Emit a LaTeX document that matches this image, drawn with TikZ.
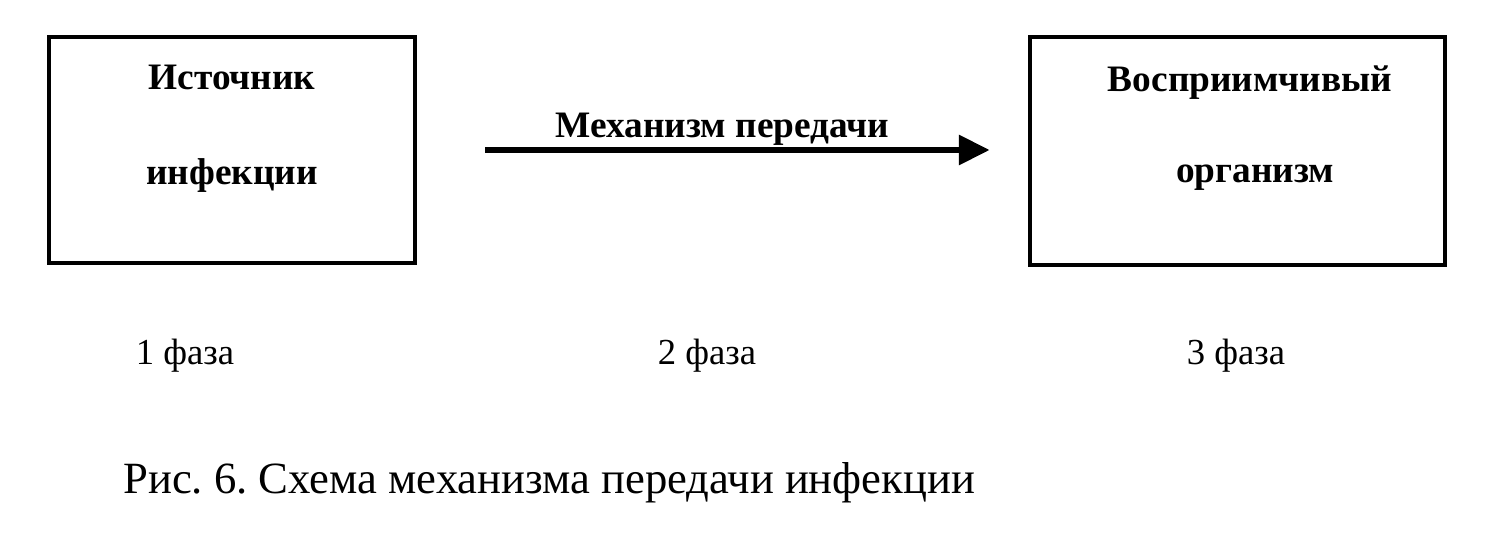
\documentclass[tikz,border=0pt]{standalone}
\usepackage{fontspec}
\setmainfont{Liberation Serif}
\usepackage{tikz}
\usetikzlibrary{arrows.meta}
\usetikzlibrary{positioning}
\frenchspacing

\tikzset{
  frame/.style={draw, line width=3pt, inner sep=0pt},
  boxtext/.style={font=\fontsize{28}{32}\selectfont\bfseries, inner sep=0pt, anchor=base},
  phase/.style={font=\fontsize{27.5}{32}\selectfont, inner sep=0pt, anchor=base},
  flow/.style={line width=4pt, -{Triangle[length=23pt,width=22pt]}}
}

\begin{document}
\begin{tikzpicture}[x=0.75pt,y=0.75pt]
    \useasboundingbox (0,0) rectangle (1508,532);
    \node[frame, minimum width=274.5pt, minimum height=169.5pt] (source) at (232,382) {};
    \node[boxtext] (sourceA) at (232,442) {Источник};
    \node[boxtext] (sourceB) at (232,347) {инфекции};
    \node[frame, minimum width=311pt, minimum height=171pt] (host) at (1237.5,381) {};
    \node[boxtext] (hostA) at (1250,440) {Восприимчивый};
    \node[boxtext] (hostB) at (1255,349) {организм};
    \draw[flow, shorten <=51pt, shorten >=29pt] (source.east) -- (source.east -| host.west)
      node[boxtext, midway, yshift=9pt] (route) {Механизм передачи};
    \node[phase] (phaseA) at (185,167) {1 фаза};
    \node[phase] (phaseB) at (707,167) {2 фаза};
    \node[phase] (phaseC) at (1236,167) {3 фаза};
    \node[phase, anchor=base west, font=\fontsize{33.5}{38}\selectfont] (caption) at (123,39) {Рис. 6. Схема механизма передачи инфекции};
  \end{tikzpicture}
\end{document}
